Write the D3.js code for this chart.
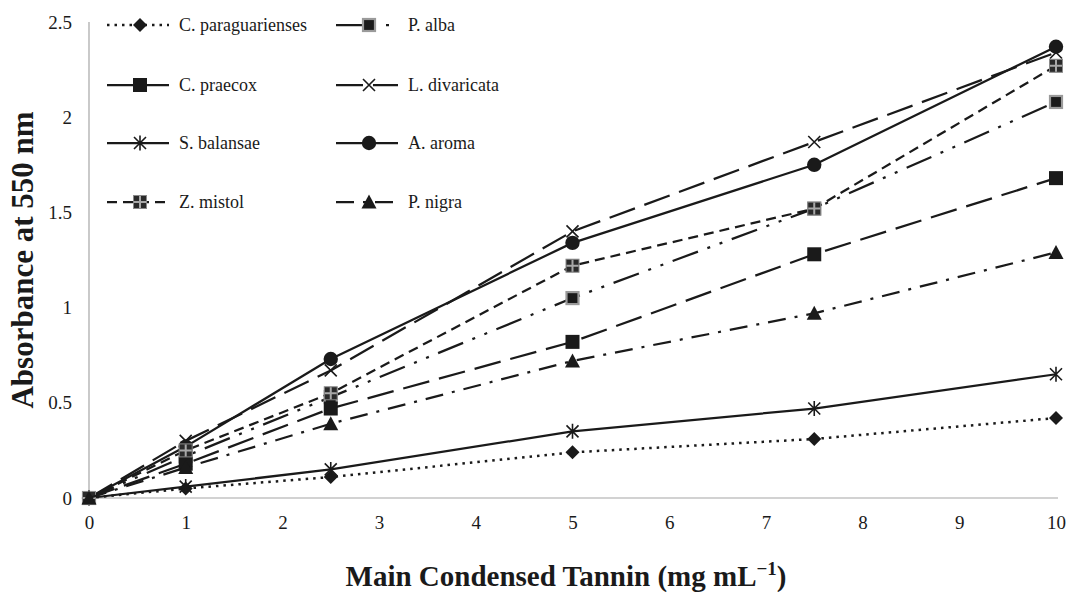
<!DOCTYPE html>
<html>
<head>
<meta charset="utf-8">
<script src="https://cdn.jsdelivr.net/npm/d3@7"></script>
<style>
  html, body { margin: 0; padding: 0; background: #fff; }
  svg { display: block; }
  svg text { font-family: "Liberation Serif", "Times New Roman", "DejaVu Serif", "Liberation Sans", Arial, sans-serif !important; fill: #1a1a1a; }
</style>
</head>
<body>
<svg id="chart" width="1068" height="592"></svg>
<script>
// ---- data ----
const concentrations = [0, 1, 2.5, 5, 7.5, 10];
const seriesNames = ["C. paraguarienses", "P. alba", "C. praecox", "L. divaricata",
                     "S. balansae", "A. aroma", "Z. mistol", "P. nigra"];
const cParaguarienses = [0, 0.05, 0.11, 0.24, 0.31, 0.42];
const pAlba          = [0, 0.22, 0.53, 1.05, 1.52, 2.08];
const cPraecox       = [0, 0.18, 0.47, 0.82, 1.28, 1.68];
const lDivaricata    = [0, 0.30, 0.67, 1.40, 1.87, 2.34];
const sBalansae      = [0, 0.06, 0.15, 0.35, 0.47, 0.65];
const aAroma         = [0, 0.27, 0.73, 1.34, 1.75, 2.37];
const zMistol        = [0, 0.25, 0.55, 1.22, 1.52, 2.27];
const pNigra         = [0, 0.16, 0.39, 0.72, 0.97, 1.29];
const xTicks = [0, 1, 2, 3, 4, 5, 6, 7, 8, 9, 10];
const yTicks = [0, 0.5, 1, 1.5, 2, 2.5];

const seriesValues = [cParaguarienses, pAlba, cPraecox, lDivaricata, sBalansae, aAroma, zMistol, pNigra];

// styles per series (not data)
const styles = [
  { dash: "2.5 5", width: 2.5, marker: "diamond" },
  { dash: "27 10 3 10 3 10", width: 2.25, marker: "squareGrayEdge" },
  { dash: "27 10", width: 2.25, marker: "square" },
  { dash: "27 10", width: 2.25, marker: "x" },
  { dash: null, width: 2.25, marker: "star" },
  { dash: null, width: 2.25, marker: "circle" },
  { dash: "10 6", width: 2.25, marker: "squarePlus" },
  { dash: "18 9 3 9", width: 2.25, marker: "triangle" }
];

const INK = "#1a1a1a";
const GRAYLINE = "#a6a6a6";

const svg = d3.select("#chart");
const x = d3.scaleLinear().domain([0, 10]).range([89, 1056]);
const y = d3.scaleLinear().domain([0, 2.5]).range([498, 22]);

// axes
const yAxis = d3.axisLeft(y).tickValues(yTicks).tickSize(0).tickPadding(17)
  .tickFormat(d => String(d));
const gy = svg.append("g").attr("transform", `translate(${x(0)},0)`).call(yAxis);
gy.select(".domain").remove();
gy.attr("font-family", null);
gy.selectAll("text").style("font-size", "19px").attr("fill", INK);

const xAxis = d3.axisBottom(x).tickValues(xTicks).tickSize(0).tickPadding(18)
  .tickFormat(d => String(d));
const gx = svg.append("g").attr("transform", `translate(0,${y(0)})`).call(xAxis);
gx.select(".domain").remove();
gx.attr("font-family", null);
gx.selectAll("text").style("font-size", "19px").attr("fill", INK);

// axis lines
svg.append("line").attr("x1", x(0)).attr("x2", x(0)).attr("y1", y(2.5)).attr("y2", y(0))
  .attr("stroke", GRAYLINE).attr("stroke-width", 1.2);
svg.append("line").attr("x1", x(0)).attr("x2", x(10) + 2).attr("y1", y(0)).attr("y2", y(0))
  .attr("stroke", GRAYLINE).attr("stroke-width", 1.2);

// marker drawing
function drawMarker(g, type, cx, cy) {
  const m = g.append("g").attr("transform", `translate(${cx},${cy})`);
  const s = 7;
  switch (type) {
    case "diamond":
      m.append("path").attr("d", `M0,${-s}L${s},0L0,${s}L${-s},0Z`).attr("fill", INK);
      break;
    case "square":
      m.append("rect").attr("x", -s).attr("y", -s).attr("width", 2 * s).attr("height", 2 * s).attr("fill", INK);
      break;
    case "squareGrayEdge":
      m.append("rect").attr("x", -6).attr("y", -6).attr("width", 12).attr("height", 12)
        .attr("fill", INK).attr("stroke", "#9a9a9a").attr("stroke-width", 2.2);
      break;
    case "squarePlus":
      m.append("rect").attr("x", -6.5).attr("y", -6.5).attr("width", 13).attr("height", 13)
        .attr("fill", "#2a2a2a").attr("stroke", "#8a8a8a").attr("stroke-width", 1);
      m.append("path").attr("d", "M-6,0H6M0,-6V6").attr("stroke", "#a8a8a8").attr("stroke-width", 2);
      break;
    case "x":
      m.append("path").attr("d", "M-6,-6L6,6M6,-6L-6,6").attr("stroke", INK).attr("stroke-width", 1.6).attr("fill", "none");
      break;
    case "star":
      m.append("path").attr("d", "M-6,-6L6,6M6,-6L-6,6M0,-7.5V7.5").attr("stroke", INK).attr("stroke-width", 1.6).attr("fill", "none");
      break;
    case "circle":
      m.append("circle").attr("r", 7.2).attr("fill", INK);
      break;
    case "triangle":
      m.append("path").attr("d", "M0,-7.5L7.5,6.5L-7.5,6.5Z").attr("fill", INK);
      break;
  }
}

// series
const line = d3.line().x(d => x(d[0])).y(d => y(d[1]));
const plot = svg.append("g");
seriesValues.forEach((vals, i) => {
  const pts = concentrations.map((c, j) => [c, vals[j]]);
  const st = styles[i];
  const g = plot.append("g");
  g.append("path").datum(pts).attr("d", line).attr("fill", "none")
    .attr("stroke", INK).attr("stroke-width", st.width)
    .attr("stroke-dasharray", st.dash).attr("stroke-linejoin", "round");
  pts.forEach(p => drawMarker(g, st.marker, x(p[0]), y(p[1])));
});

// legend
const legCols = [107, 336];
const legRows = [25, 85, 143, 202];
const legLen = 62;
seriesNames.forEach((name, i) => {
  const col = i % 2, row = Math.floor(i / 2);
  const lx = legCols[col], ly = legRows[row];
  const st = styles[i];
  const g = svg.append("g");
  g.append("line").attr("x1", lx).attr("x2", lx + legLen).attr("y1", ly).attr("y2", ly)
    .attr("stroke", INK).attr("stroke-width", st.width).attr("stroke-dasharray", st.dash);
  drawMarker(g, st.marker, lx + legLen / 2 + 2, ly);
  g.append("text").attr("x", lx + legLen + 10).attr("y", ly).attr("dy", "0.33em")
    .style("font-size", "18px").text(name);
});

// axis titles
const xt = svg.append("text").attr("x", 566).attr("y", 586)
  .attr("text-anchor", "middle").style("font-size", "29px").style("font-weight", "bold");
xt.append("tspan").text("Main Condensed Tannin (mg mL");
xt.append("tspan").attr("dy", -11).style("font-size", "19px").text("\u22121");
xt.append("tspan").attr("dy", 11).text(")");

svg.append("text").attr("transform", `translate(33,${(y(0) + y(2.5)) / 2}) rotate(-90)`)
  .attr("text-anchor", "middle").style("font-size", "31px").style("font-weight", "bold")
  .text("Absorbance at 550 nm");
</script>
</body>
</html>
